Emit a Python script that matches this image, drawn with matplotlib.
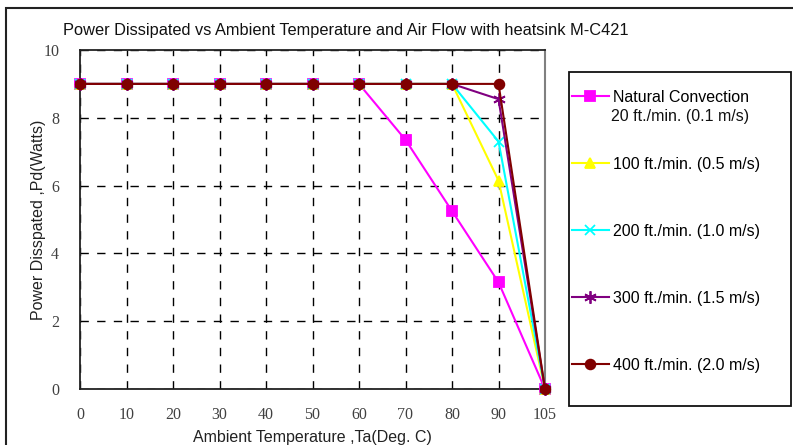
import matplotlib
matplotlib.use("Agg")
import matplotlib.pyplot as plt
from matplotlib.patches import Rectangle

categories = ["0", "10", "20", "30", "40", "50", "60", "70", "80", "90", "105"]
natural = [9, 9, 9, 9, 9, 9, 9, 7.35, 5.25, 3.15, 0]
ft100 = [9, 9, 9, 9, 9, 9, 9, 9, 9, 6.15, 0]
ft200 = [9, 9, 9, 9, 9, 9, 9, 9, 9, 7.3, 0]
ft300 = [9, 9, 9, 9, 9, 9, 9, 9, 9, 8.55, 0]
ft400 = [9, 9, 9, 9, 9, 9, 9, 9, 9, 9, 0]
labels = ["Natural Convection", "100 ft./min. (0.5 m/s)", "200 ft./min. (1.0 m/s)",
          "300 ft./min. (1.5 m/s)", "400 ft./min. (2.0 m/s)"]
yticks = [0, 2, 4, 6, 8, 10]

W, H = 793, 445
fig = plt.figure(figsize=(W / 100, H / 100), dpi=100)
ax = fig.add_axes([80 / W, 1 - 389 / H, (545 - 80) / W, (389 - 50) / H])

x = list(range(len(categories)))
series = [
    (natural, "#FF00FF", "s", 7, "#FF00FF"),
    (ft100, "#FFFF00", "^", 7, "#FFFF00"),
    (ft200, "#00FFFF", "x", 7, "#00FFFF"),
    (ft300, "#800080", (6, 2, 0), 9, "#800080"),
    (ft400, "#800000", "o", 7, "#800000"),
]
handles = []
for (vals, col, mk, ms, mc), lab in zip(series, labels):
    h, = ax.plot(x, vals, color=col, lw=1.5, marker=mk, markersize=ms,
                 markerfacecolor=mc, markeredgecolor=mc, markeredgewidth=1.3,
                 clip_on=False, zorder=3, label=lab)
    handles.append(h)

ax.set_xlim(0, len(categories) - 1)
ax.set_ylim(0, 10)
ax.set_xticks(x)
ax.set_xticklabels(categories)
ax.set_yticks(yticks)
ax.tick_params(axis="both", length=0, labelsize=11.5, labelcolor="#404040", pad=13)
for lab in ax.get_xticklabels() + ax.get_yticklabels():
    lab.set_fontfamily("Liberation Serif")
ax.tick_params(axis="y", pad=15)

ax.grid(True, color="black", linestyle=(0, (6, 6)), linewidth=1.0)
for s in ["left", "top", "bottom"]:
    ax.spines[s].set_color("#222222")
    ax.spines[s].set_linewidth(1.3)
ax.spines["right"].set_color("#808080")
ax.spines["right"].set_linewidth(1.5)

ax.set_xlabel("Ambient Temperature ,Ta(Deg. C)", fontfamily="Liberation Sans",
              fontsize=11.5, color="#222222", labelpad=5)
ax.set_ylabel("Power Disspated ,Pd(Watts)", fontfamily="Liberation Sans",
              fontsize=11.5, color="#222222", labelpad=-2)
fig.text(346 / W, 1 - 30 / H,
         "Power Dissipated vs Ambient Temperature and Air Flow with heatsink M-C421",
         ha="center", va="center", fontfamily="Liberation Sans", fontsize=11.8,
         color="#111111")

# outer chart frame (cropped)
fig.patches.append(Rectangle((6 / W, -0.1), 1.2, 1 - 8 / H + 0.1,
                             transform=fig.transFigure, fill=False,
                             edgecolor="#222222", linewidth=1.5))
# legend frame
fig.patches.append(Rectangle((569 / W, 1 - 406 / H), (791 - 569) / W, (406 - 72) / H,
                             transform=fig.transFigure, fill=False,
                             edgecolor="#111111", linewidth=1.3))

leg = fig.legend(handles=handles, labels=labels, loc="upper left",
                 bbox_to_anchor=(572 / W, 1 - 89.5 / H), frameon=False,
                 prop={"family": "Liberation Sans", "size": 11.5},
                 handlelength=2.3, handletextpad=0.25, labelspacing=3.26,
                 borderpad=0, borderaxespad=0)
fig.text(611 / W, 1 - 116.5 / H, "20 ft./min. (0.1 m/s)", ha="left", va="center",
         fontfamily="Liberation Sans", fontsize=11.5, color="#111111")

fig.savefig("out.png", dpi=100)
